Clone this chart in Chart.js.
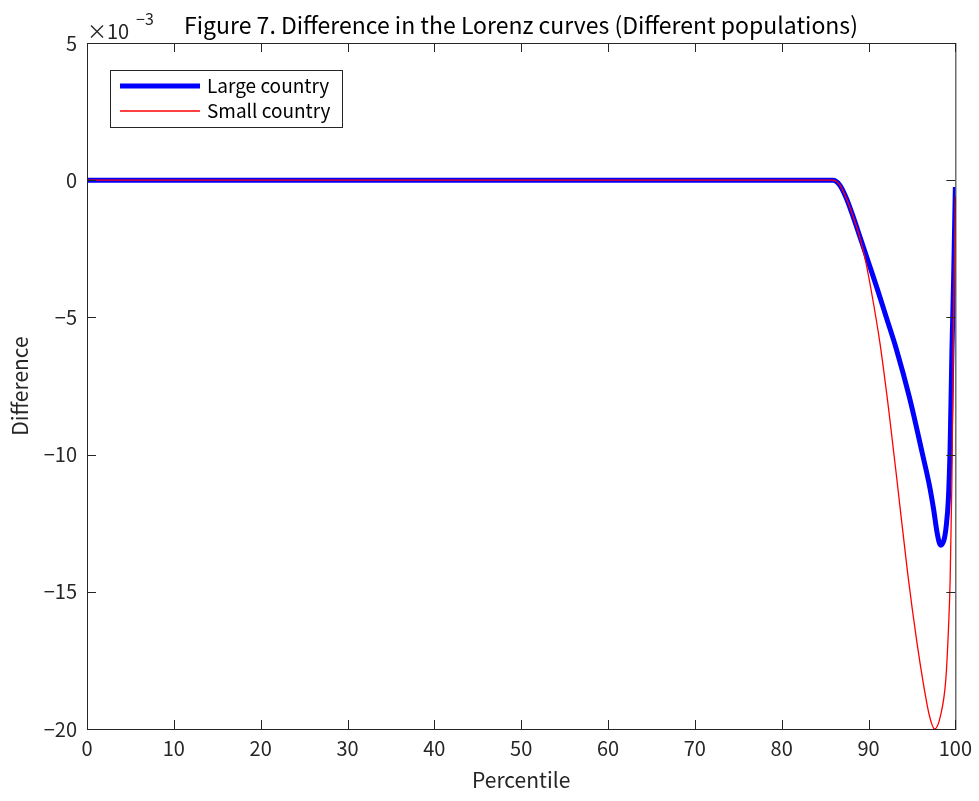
<!DOCTYPE html>
<html>
<head>
<meta charset="utf-8">
<script src="https://cdn.jsdelivr.net/npm/chart.js@4/dist/chart.umd.min.js"></script>
<style>
    body { margin: 0; background: #fff; }
    canvas { display: block; }
</style>
</head>
<body>
<canvas id="lorenz" width="979" height="801"></canvas>
<script>
// Percentile positions and difference values (x 10^-3)
const largeX = [0, 85.9, 86.7, 87.4, 88.2, 89.0, 90.0, 91.0, 92.0, 93.2, 94.7, 96.2, 97.0, 97.5, 97.9, 98.3, 98.7, 98.95, 99.2, 99.4, 99.6, 99.8, 100]
const largeY = [0, 0, -0.18, -0.62, -1.3, -2.05, -3.0, -3.95, -4.95, -6.15, -7.9, -9.96, -11.1, -12.0, -12.85, -13.3, -13.1, -12.6, -11.6, -9.7, -6.3, -3.6, -0.25]

const smallX = [0, 85.9, 86.7, 87.4, 88.2, 89.1, 89.7, 90.3, 91.3, 92.3, 93.3, 94.5, 95.6, 96.4, 97.0, 97.6, 98.3, 98.9, 99.2, 99.4, 99.6, 99.8, 100]
const smallY = [0, 0, -0.18, -0.62, -1.3, -2.2, -3.0, -4.0, -5.9, -8.3, -11.0, -14.3, -16.9, -18.5, -19.5, -20.0, -19.5, -18.2, -16.4, -14.6, -11.0, -5.0, -0.6]

const xTicks = [0, 10, 20, 30, 40, 50, 60, 70, 80, 90, 100]
const yTicks = [5, 0, -5, -10, -15, -20]

const seriesNames = ['Large country', 'Small country']
const titleText = 'Figure 7. Difference in the Lorenz curves (Different populations)'

const FONT = '"Noto Sans CJK JP", "Noto Sans", sans-serif'
const INK = '#262626'

const toPoints = (xs, ys) => xs.map((x, i) => ({ x: x, y: ys[i] }))
const minusSign = (v) => v < 0 ? '\u2212' + Math.abs(v) : String(v)

// box, inward ticks, title, exponent and legend (MATLAB look)
const matlabFrame = {
    id: 'matlabFrame',
    afterDraw(chart) {
        const { ctx, chartArea: a, scales } = chart
        ctx.save()
        ctx.strokeStyle = INK
        ctx.lineWidth = 1
        ctx.strokeRect(a.left + 0.5, a.top + 0.5, a.right - a.left, a.bottom - a.top)

        const tl = 9
        ctx.beginPath()
        xTicks.forEach((v) => {
            const px = Math.round(scales.x.getPixelForValue(v)) + 0.5
            ctx.moveTo(px, a.bottom); ctx.lineTo(px, a.bottom - tl)
            ctx.moveTo(px, a.top); ctx.lineTo(px, a.top + tl)
        })
        yTicks.forEach((v) => {
            const py = Math.round(scales.y.getPixelForValue(v)) + 0.5
            ctx.moveTo(a.left, py); ctx.lineTo(a.left + tl, py)
            ctx.moveTo(a.right, py); ctx.lineTo(a.right - tl, py)
        })
        ctx.stroke()

        // title
        ctx.fillStyle = '#000'
        ctx.font = '23px ' + FONT
        ctx.textAlign = 'center'
        ctx.textBaseline = 'alphabetic'
        ctx.fillText(titleText, 521, 34)

        // exponent
        ctx.fillStyle = INK
        ctx.textAlign = 'left'
        ctx.font = '20px ' + FONT
        ctx.fillText('\u00d710', 87, 39)
        ctx.font = '16px ' + FONT
        ctx.fillText('\u22123', 136, 25)

        // legend
        const lx = 110, ly = 70, lw = 232, lh = 57
        ctx.fillStyle = '#fff'
        ctx.fillRect(lx, ly, lw, lh)
        ctx.strokeStyle = INK
        ctx.lineWidth = 1
        ctx.strokeRect(lx + 0.5, ly + 0.5, lw, lh)
        ctx.font = '19px ' + FONT
        ctx.textBaseline = 'middle'
        chart.data.datasets.forEach((ds, i) => {
            const y = ly + 16 + i * 25
            ctx.strokeStyle = ds.borderColor
            ctx.lineWidth = ds.borderWidth
            ctx.beginPath()
            ctx.moveTo(120, y); ctx.lineTo(200, y)
            ctx.stroke()
            ctx.fillStyle = '#000'
            ctx.fillText(ds.label, 207, y)
        })
        ctx.restore()
    }
}

new Chart(document.getElementById('lorenz'), {
    type: 'line',
    data: {
        datasets: [{
            label: seriesNames[0],
            data: toPoints(largeX, largeY),
            borderColor: '#0000ff',
            borderWidth: 5,
            pointRadius: 0,
            order: 2,
            cubicInterpolationMode: 'monotone'
        }, {
            label: seriesNames[1],
            data: toPoints(smallX, smallY),
            borderColor: '#ff0000',
            borderWidth: 1.3,
            pointRadius: 0,
            order: 1,
            clip: 2,
            cubicInterpolationMode: 'monotone'
        }]
    },
    options: {
        responsive: false,
        animation: false,
        layout: { padding: { top: 43, right: 23, left: 0, bottom: 0 } },
        plugins: {
            legend: { display: false },
            title: { display: false },
            tooltip: { enabled: false }
        },
        scales: {
            x: {
                type: 'linear',
                min: 0,
                max: 100,
                afterFit: (s) => { s.height = 72 },
                afterBuildTicks: (s) => { s.ticks = xTicks.map((v) => ({ value: v })) },
                grid: { display: false, drawTicks: false },
                border: { display: false },
                ticks: {
                    color: INK,
                    padding: 7,
                    maxRotation: 0,
                    font: { family: FONT, size: 20 }
                },
                title: {
                    display: true,
                    text: 'Percentile',
                    color: INK,
                    padding: { top: 0, bottom: 8 },
                    font: { family: FONT, size: 21 }
                }
            },
            y: {
                type: 'linear',
                min: -20,
                max: 5,
                afterFit: (s) => { s.width = 87 },
                afterBuildTicks: (s) => { s.ticks = yTicks.map((v) => ({ value: v })) },
                grid: { display: false, drawTicks: false },
                border: { display: false },
                ticks: {
                    color: INK,
                    padding: 10,
                    callback: minusSign,
                    font: { family: FONT, size: 20 }
                },
                title: {
                    display: true,
                    text: 'Difference',
                    color: INK,
                    padding: { top: 7, bottom: 0 },
                    font: { family: FONT, size: 21 }
                }
            }
        }
    },
    plugins: [matlabFrame]
})
</script>
</body>
</html>
